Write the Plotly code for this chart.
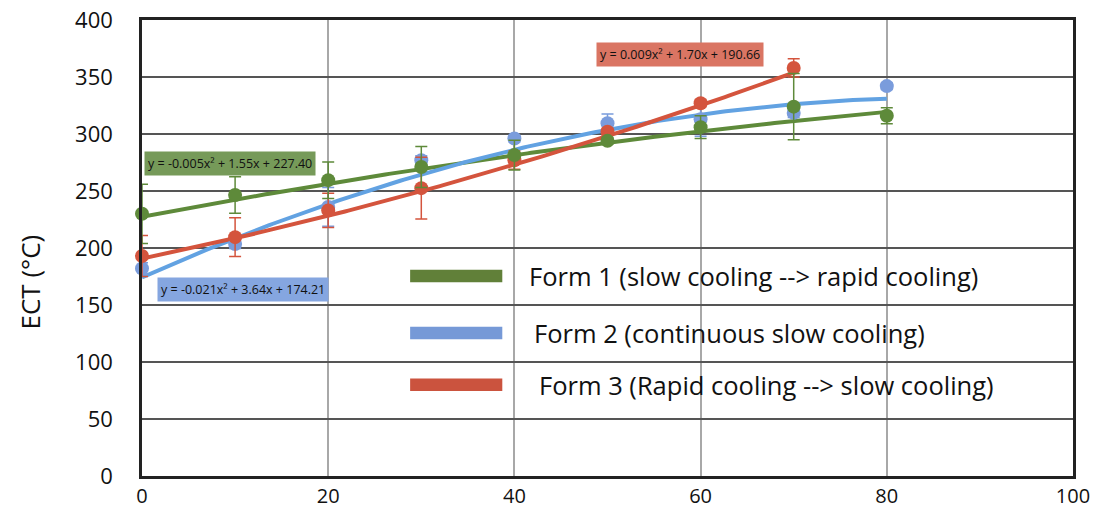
import numpy as np
import plotly.graph_objects as go

# Cooling time positions (x) and measured ECT values (°C) with error half-widths
x_pts = [0, 10, 20, 30, 40, 50, 60, 70, 80]
x_pts_form3 = [0, 10, 20, 30, 40, 50, 60, 70]

form1 = [230, 246.5, 259.5, 271, 281.5, 294, 306, 324, 316]
form1_err = [26, 16, 16, 18, 13, 3, 10, 29, 7]

form2 = [182, 203.5, 236, 277, 296, 309.5, 313, 318.5, 342]
form2_err = [5, 4, 17, 4, 3, 8, 15, 4, 3]

form3 = [193, 209.5, 233, 252.5, 277, 302, 327, 358]
form3_err = [18, 17, 15, 27, 8, 3, 3, 8]

# Quadratic trendline coefficients (a, b, c) for y = a*x^2 + b*x + c
fit1 = [-0.005, 1.55, 227.40]
fit2 = [-0.021, 3.64, 174.21]
fit3 = [0.009, 1.70, 190.66]

eq1 = "y = -0.005x² + 1.55x + 227.40"
eq2 = "y = -0.021x² + 3.64x + 174.21"
eq3 = "y = 0.009x² + 1.70x + 190.66"

names = [
    "Form 1 (slow cooling --> rapid cooling)",
    "Form 2 (continuous slow cooling)",
    "Form 3 (Rapid cooling --> slow cooling)",
]

x_ticks = [0, 20, 40, 60, 80, 100]
y_ticks = [0, 50, 100, 150, 200, 250, 300, 350, 400]

GREEN = "#5E8A3A"
GREEN_SW = "#618039"
BLUE_LINE = "#62A2E2"
BLUE_MK = "#7A9CDC"
BLUE_SW = "#7699D7"
RED = "#D4543D"
RED_SW = "#CB533E"

FONT = "Open Sans"

fig = go.Figure()

# Trendlines
series_fits = [
    (fit1, x_pts, GREEN),
    (fit2, x_pts, BLUE_LINE),
    (fit3, x_pts_form3, RED),
]
for coef, xs, col in series_fits:
    xx = np.linspace(min(xs), max(xs), 200)
    yy = np.polyval(coef, xx)
    fig.add_trace(go.Scatter(x=xx, y=yy, mode="lines",
                             line=dict(color=col, width=4),
                             hoverinfo="skip", showlegend=False,
                             cliponaxis=False))

# Measured points with error bars
series_pts = [
    (x_pts, form2, form2_err, BLUE_MK),
    (x_pts_form3, form3, form3_err, RED),
    (x_pts, form1, form1_err, GREEN),
]
for xs, ys, errs, col in series_pts:
    fig.add_trace(go.Scatter(
        x=xs, y=ys, mode="markers",
        marker=dict(color=col, size=14),
        error_y=dict(type="data", array=errs, visible=True,
                     color=col, thickness=1.5, width=6),
        showlegend=False, cliponaxis=False))

# Legend drawn as swatches with labels (positions in data units)
legend_rows = [
    (names[0], GREEN_SW, 175.5, 41.3),
    (names[1], BLUE_SW, 125.5, 41.85),
    (names[2], RED_SW, 80.0, 42.4),
]
for label, col, yc, tx in legend_rows:
    fig.add_shape(type="rect", xref="x", yref="y",
                  x0=28.8, x1=38.7, y0=yc - 5.5, y1=yc + 5.5,
                  fillcolor=col, line=dict(width=0), layer="above")
    fig.add_annotation(x=tx, y=yc, xref="x", yref="y",
                       text=label, showarrow=False, xanchor="left",
                       font=dict(family=FONT, size=25.5, color="#111"))

# Trendline equation labels
eq_boxes = [
    (eq1, "#769A59", 9.5, 274.5),
    (eq2, "#85A6E0", 10.8, 164.0),
    (eq3, "#DA7563", 57.8, 369.5),
]
for txt, bg, xc, yc in eq_boxes:
    fig.add_annotation(x=xc, y=yc, xref="x", yref="y", text=txt,
                       showarrow=False, bgcolor=bg, borderpad=3,
                       font=dict(family=FONT, size=12.5, color="#111"))

# Y-axis title
fig.add_annotation(x=-0.12, y=0.425, xref="paper", yref="paper",
                   xanchor="center", yanchor="middle",
                   text="ECT (°C)", textangle=-90, showarrow=False,
                   font=dict(family=FONT, size=26, color="#111"))

fig.update_layout(
    width=1097, height=509,
    margin=dict(l=142, r=24, t=20, b=33),
    plot_bgcolor="white", paper_bgcolor="white",
    font=dict(family=FONT, color="#111"),
)
fig.update_xaxes(range=[0, 100], tickvals=x_ticks, automargin=False,
                 showgrid=True, gridcolor="#A8A8A8", gridwidth=1.5,
                 showline=True, linecolor="#222", linewidth=2.5, mirror=True,
                 ticks="", zeroline=False,
                 tickfont=dict(family=FONT, size=20, color="#111"))
fig.update_yaxes(range=[0, 400], tickvals=y_ticks, automargin=False,
                 showgrid=True, gridcolor="#555555", gridwidth=1.5,
                 showline=True, linecolor="#222", linewidth=2.5, mirror=True,
                 ticks="", zeroline=False, ticklabelstandoff=22,
                 tickfont=dict(family=FONT, size=22, color="#111"))

fig.write_html("out.html")
